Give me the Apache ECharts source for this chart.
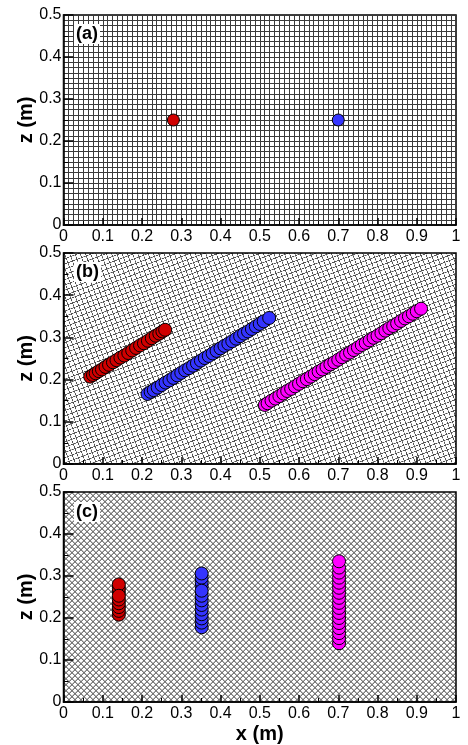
<!DOCTYPE html>
<html>
<head>
<meta charset="utf-8">
<script src="https://cdn.jsdelivr.net/npm/echarts@6/dist/echarts.min.js"></script>
<style>
  html, body { margin: 0; padding: 0; background: #fff; }
  #chart { width: 468px; height: 745px; }
</style>
</head>
<body>
<div id="chart"></div>
<script>
// ---- data (x, z in metres) ----
const panelLabels = ['(a)', '(b)', '(c)'];

// (a) initial particles
const aRed = [[0.28, 0.25]];
const aBlue = [[0.70, 0.25]];

// (b) inclined mesh
const bRed = [
  [0.068, 0.207], [0.075, 0.211], [0.082, 0.215], [0.090, 0.220], [0.098, 0.224],
  [0.107, 0.230], [0.116, 0.235], [0.126, 0.241], [0.135, 0.246], [0.145, 0.252],
  [0.155, 0.257], [0.165, 0.263], [0.175, 0.269], [0.185, 0.275], [0.195, 0.281],
  [0.205, 0.286], [0.215, 0.292], [0.225, 0.298], [0.235, 0.304], [0.244, 0.309],
  [0.252, 0.314], [0.259, 0.318]
];
const bBlue = [
  [0.214, 0.166], [0.222, 0.171], [0.230, 0.175], [0.240, 0.181], [0.250, 0.187],
  [0.260, 0.193], [0.270, 0.198], [0.280, 0.204], [0.290, 0.210], [0.300, 0.216],
  [0.310, 0.222], [0.320, 0.227], [0.330, 0.233], [0.340, 0.239], [0.350, 0.245],
  [0.360, 0.251], [0.370, 0.256], [0.380, 0.262], [0.390, 0.268], [0.400, 0.274],
  [0.410, 0.280], [0.420, 0.285], [0.430, 0.291], [0.440, 0.297], [0.450, 0.303],
  [0.460, 0.309], [0.470, 0.314], [0.480, 0.320], [0.490, 0.326], [0.500, 0.332],
  [0.510, 0.338], [0.524, 0.346]
];
const bMagenta = [
  [0.513, 0.140], [0.520, 0.144], [0.530, 0.150], [0.540, 0.155], [0.550, 0.161],
  [0.560, 0.167], [0.570, 0.173], [0.580, 0.178], [0.590, 0.184], [0.600, 0.190],
  [0.610, 0.196], [0.620, 0.201], [0.630, 0.207], [0.640, 0.213], [0.650, 0.219],
  [0.660, 0.224], [0.670, 0.230], [0.680, 0.236], [0.690, 0.241], [0.700, 0.247],
  [0.710, 0.253], [0.720, 0.259], [0.730, 0.264], [0.740, 0.270], [0.750, 0.276],
  [0.760, 0.282], [0.770, 0.287], [0.780, 0.293], [0.790, 0.299], [0.800, 0.304],
  [0.810, 0.310], [0.820, 0.316], [0.830, 0.322], [0.840, 0.327], [0.850, 0.333],
  [0.860, 0.339], [0.870, 0.345], [0.880, 0.350], [0.890, 0.356], [0.900, 0.362],
  [0.911, 0.368]
];

// (c) diagonal mesh
const cRed = [
  [0.141, 0.208], [0.141, 0.217], [0.141, 0.226], [0.141, 0.235], [0.141, 0.244],
  [0.141, 0.262], [0.141, 0.271], [0.141, 0.280], [0.141, 0.253]
];
const cBlue = [
  [0.352, 0.178], [0.352, 0.189], [0.352, 0.199], [0.352, 0.209], [0.352, 0.220],
  [0.352, 0.231], [0.352, 0.242], [0.352, 0.253], [0.352, 0.275], [0.352, 0.285],
  [0.352, 0.296], [0.352, 0.306], [0.352, 0.265]
];
const cMagenta = [
  [0.702, 0.140], [0.702, 0.152], [0.702, 0.164], [0.702, 0.176], [0.702, 0.188],
  [0.702, 0.200], [0.702, 0.212], [0.702, 0.224], [0.702, 0.236], [0.702, 0.248],
  [0.702, 0.260], [0.702, 0.272], [0.702, 0.284], [0.702, 0.296], [0.702, 0.308],
  [0.702, 0.320], [0.702, 0.335]
];

const RED = '#d00000', BLUE = '#3434ff', MAGENTA = '#ff00ff';
const FONT = 'Liberation Sans';

// mesh texture tile (drawn large, then scaled down by the pattern)
function meshTile(size, line, color) {
  const c = document.createElement('canvas');
  c.width = size; c.height = size;
  const ctx = c.getContext('2d');
  ctx.fillStyle = '#fff';
  ctx.fillRect(0, 0, size, size);
  ctx.fillStyle = color;
  ctx.fillRect(0, 0, size, line);
  ctx.fillRect(0, 0, line, size);
  return c;
}

const grids = [
  { top: 15, height: 210 },
  { top: 253, height: 211 },
  { top: 492, height: 210 }
].map((g, i) => ({
  left: 63.5, right: 12, top: g.top, height: g.height,
  show: true, borderColor: '#000', borderWidth: 1.5,
  backgroundColor: i === 0 ? '#fff'
    : i === 1
      ? { image: meshTile(20, 3, '#505050'), repeat: 'repeat', rotation: -0.36, scaleX: 0.245, scaleY: 0.245 }
      : { image: meshTile(16, 3, '#6a6a6a'), repeat: 'repeat', rotation: Math.PI / 4, scaleX: 0.26517, scaleY: 0.26517 }
}));

const xAxes = [], yAxes = [];
for (let i = 0; i < 3; i++) {
  xAxes.push({
    type: 'value', gridIndex: i, min: 0, max: 1, interval: 0.1,
    axisLine: { show: true, lineStyle: { color: '#000', width: 1.5 } },
    axisTick: { show: true, inside: true, length: 7, lineStyle: { color: '#000', width: 1.5 } },
    minorTick: { show: true, splitNumber: 2, length: 4, lineStyle: { color: '#000', width: 1 } },
    axisLabel: { fontSize: 16, fontFamily: FONT, color: '#000', margin: 4 },
    splitLine: { show: false },
    name: i === 2 ? 'x (m)' : '', nameLocation: 'middle', nameGap: 22, nameMoveOverlap: false,
    nameTextStyle: { fontSize: 20, fontWeight: 'bold', fontFamily: FONT, color: '#000' }
  });
  // hidden axis carrying the rectangular mesh lines of panel (a)
  xAxes.push({
    type: 'value', gridIndex: i, min: 0, max: 1, interval: 0.0125, position: 'top',
    axisLine: { show: false }, axisTick: { show: false }, axisLabel: { show: false },
    splitLine: { show: i === 0, lineStyle: { color: '#3a3a3a', width: 1 } }
  });
  yAxes.push({
    type: 'value', gridIndex: i, min: 0, max: 0.5, interval: 0.1,
    axisLine: { show: true, lineStyle: { color: '#000', width: 1.5 } },
    axisTick: { show: true, inside: true, length: 10, lineStyle: { color: '#000', width: 1.5 } },
    minorTick: { show: true, splitNumber: 2, length: 5, lineStyle: { color: '#000', width: 1 } },
    axisLabel: { fontSize: 16, fontFamily: FONT, color: '#000', margin: 2 },
    splitLine: { show: false },
    name: 'z (m)', nameLocation: 'middle', nameGap: 27, nameMoveOverlap: false,
    nameTextStyle: { fontSize: 20, fontWeight: 'bold', fontFamily: FONT, color: '#000' }
  });
  yAxes.push({
    type: 'value', gridIndex: i, min: 0, max: 0.5, interval: 0.0125, position: 'right',
    axisLine: { show: false }, axisTick: { show: false }, axisLabel: { show: false },
    splitLine: { show: i === 0, lineStyle: { color: '#3a3a3a', width: 1 } }
  });
}

function particles(data, color, panel) {
  return {
    type: 'scatter', data: data, xAxisIndex: panel * 2, yAxisIndex: panel * 2,
    symbol: 'circle', symbolSize: panel === 0 ? 12 : 13,
    itemStyle: { color: color, borderColor: '#000', borderWidth: 1, opacity: 1 },
    emphasis: { disabled: true }
  };
}

const chart = echarts.init(document.getElementById('chart'));
chart.setOption({
  animation: false,
  title: panelLabels.map((t, i) => ({
    text: t, left: 74, top: [24, 262, 502][i],
    padding: [1, 2], backgroundColor: '#fff',
    textStyle: { fontSize: 18, fontWeight: 'bold', fontFamily: FONT, color: '#000' }
  })),
  grid: grids,
  xAxis: xAxes,
  yAxis: yAxes,
  series: [
    particles(aRed, RED, 0),
    particles(aBlue, BLUE, 0),
    particles(bRed, RED, 1),
    particles(bBlue, BLUE, 1),
    particles(bMagenta, MAGENTA, 1),
    particles(cRed, RED, 2),
    particles(cBlue, BLUE, 2),
    particles(cMagenta, MAGENTA, 2)
  ]
});
</script>
</body>
</html>
